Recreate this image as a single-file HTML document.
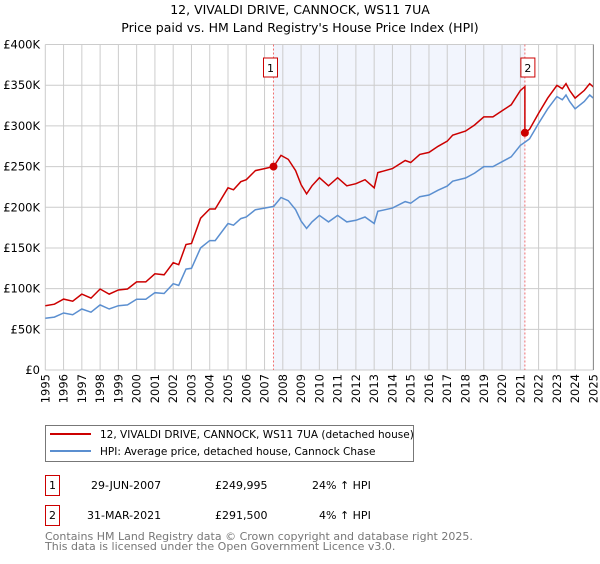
<!DOCTYPE html>
<html><head><meta charset="utf-8"><style>
body{margin:0;background:#fff;font-family:"DejaVu Sans","Liberation Sans",sans-serif;}
svg text{font-family:"DejaVu Sans","Liberation Sans",sans-serif;}
</style></head><body>
<svg id="c" width="600" height="560" xmlns="http://www.w3.org/2000/svg">
<text x="300" y="14" text-anchor="middle" font-size="12.5">12, VIVALDI DRIVE, CANNOCK, WS11 7UA</text>
<text x="300" y="32" text-anchor="middle" font-size="12.5">Price paid vs. HM Land Registry's House Price Index (HPI)</text>
<g id="plot"></g>
<g>
<rect x="45.5" y="425.5" width="368" height="36" fill="#fff" stroke="#777"/>
<line x1="50" y1="434" x2="91" y2="434" stroke="#cc0000" stroke-width="2"/>
<text x="100" y="438" font-size="10.5">12, VIVALDI DRIVE, CANNOCK, WS11 7UA (detached house)</text>
<line x1="50" y1="451" x2="91" y2="451" stroke="#5b8fd0" stroke-width="2"/>
<text x="100" y="455" font-size="10.5">HPI: Average price, detached house, Cannock Chase</text>
</g>
<g font-size="11">
<rect x="45.5" y="475.5" width="14" height="20" fill="#fff" stroke="#cc0000"/>
<text x="52.5" y="489" text-anchor="middle">1</text>
<text x="91" y="489">29-JUN-2007</text><text x="215" y="489">£249,995</text><text x="312" y="489">24% ↑ HPI</text>
<rect x="45.5" y="505.5" width="14" height="20" fill="#fff" stroke="#cc0000"/>
<text x="52.5" y="519" text-anchor="middle">2</text>
<text x="87" y="519">31-MAR-2021</text><text x="215" y="519">£291,500</text><text x="319" y="519">4% ↑ HPI</text>
</g>
<g font-size="11" fill="#777">
<text x="45" y="540">Contains HM Land Registry data © Crown copyright and database right 2025.</text>
<text x="45" y="550">This data is licensed under the Open Government Licence v3.0.</text>
</g>
</svg>
<script>
const hpiYears=[1995,1995.5,1996,1996.5,1997,1997.5,1998,1998.5,1999,1999.5,2000,2000.5,2001,2001.5,2002,2002.3,2002.7,2003,2003.5,2004,2004.3,2005,2005.3,2005.7,2006,2006.5,2007,2007.5,2007.9,2008.3,2008.7,2009,2009.3,2009.6,2010,2010.5,2011,2011.5,2012,2012.5,2013,2013.2,2014,2014.7,2015,2015.5,2016,2016.5,2017,2017.3,2018,2018.5,2019,2019.5,2020,2020.5,2021,2021.25,2021.5,2022,2022.5,2023,2023.3,2023.5,2023.7,2024,2024.5,2024.8,2025];
const hpiValues=[63.5,65,70,68,75,71,80,75,79,80,87,87,95,94,106,104,124,125,150,159,159,180,178,186,188,197,199,201,212,208,197,183,174,182,190,182,190,182,184,188,180,195,199,207,205,213,215,221,226,232,236,242,250,250,256,262,276,280,284,303,321,336,332,338,330,321,330,338,334];
const saleDates=[2007.49,2021.25];
const salePrices=[249.995,291.5];
const saleLabels=["1","2"];
const yTicks=[0,50,100,150,200,250,300,350,400];
const yTickLabels=["£0","£50K","£100K","£150K","£200K","£250K","£300K","£350K","£400K"];
const xTicks=[];for(let y=1995;y<=2025;y++)xTicks.push(y);

const X0=45.3,X1=593.4,Y0=370,Y1=44.5;
const xs=t=>X0+(t-1995)/30*(X1-X0);
const ys=v=>Y0-v/400*(Y0-Y1);
const NS="http://www.w3.org/2000/svg";
const g=document.getElementById('plot');
function mk(tag,attrs,parent){const e=document.createElementNS(NS,tag);for(const k in attrs)e.setAttribute(k,attrs[k]);(parent||g).appendChild(e);return e;}
function hpiAt(t){for(let i=0;i<hpiYears.length-1;i++){if(t<=hpiYears[i+1]){const f=(t-hpiYears[i])/(hpiYears[i+1]-hpiYears[i]);return hpiValues[i]+f*(hpiValues[i+1]-hpiValues[i]);}}return hpiValues[hpiValues.length-1];}

const shade=mk('rect',{x:xs(saleDates[0]),y:Y1,width:xs(saleDates[1])-xs(saleDates[0]),height:Y0-Y1,fill:'#f2f5fd'});


xTicks.forEach((t,i)=>{
 const l=mk('line',{x1:xs(t),x2:xs(t),y1:Y1,y2:Y0,stroke:'#ccc','stroke-width':1});
 
 
 const tx=mk('text',{x:0,y:0,'font-size':11.5,'text-anchor':'end',transform:`translate(${xs(t)+4},${Y0+4}) rotate(-90)`});
 tx.textContent=t;
 
 
});
yTicks.forEach((v,i)=>{
 const l=mk('line',{x1:X0,x2:X1,y1:ys(v),y2:ys(v),stroke:'#ccc','stroke-width':1});
 
 
 const tx=mk('text',{x:40,y:ys(v)+4,'font-size':11.5,'text-anchor':'end'});
 tx.textContent=yTickLabels[i];
 
 
});
saleDates.forEach((d,i)=>{
 const l=mk('line',{x1:xs(d),x2:xs(d),y1:Y1,y2:Y0,stroke:'#f07070','stroke-dasharray':'2,2','stroke-width':1});
 
 
 const bx=xs(d)-(i==0?3:-3);
 const r=mk('rect',{x:bx-7,y:58,width:14,height:19,fill:'#fff',stroke:'#cc0000'});
 
 
 const tx=mk('text',{x:bx,y:72,'font-size':11,'text-anchor':'middle'});
 tx.textContent=saleLabels[i];
 
 
});
const hp=hpiYears.map((t,i)=>xs(t).toFixed(1)+','+ys(hpiValues[i]).toFixed(1)).join(' ');
const hl=mk('polyline',{points:hp,fill:'none',stroke:'#5b8fd0','stroke-width':1.5});


const f1=salePrices[0]/hpiAt(saleDates[0]),f2=salePrices[1]/hpiAt(saleDates[1]);
const pts=[];
hpiYears.forEach((t,i)=>{if(t<saleDates[1])pts.push([t,hpiValues[i]*f1]);});
pts.push([saleDates[1],hpiAt(saleDates[1])*f1]);
pts.push([saleDates[1],salePrices[1]]);
hpiYears.forEach((t,i)=>{if(t>saleDates[1])pts.push([t,hpiValues[i]*f2]);});
const rl=mk('polyline',{points:pts.map(p=>xs(p[0]).toFixed(1)+','+ys(p[1]).toFixed(1)).join(' '),fill:'none',stroke:'#cc0000','stroke-width':1.5});


saleDates.forEach((d,i)=>{
 const c=mk('circle',{cx:xs(d),cy:ys(salePrices[i]),r:4,fill:'#cc0000'});
 
 
});
const ax=mk('line',{x1:X1,x2:X1,y1:Y1,y2:Y0,stroke:'#888'});


</script>
</body></html>
